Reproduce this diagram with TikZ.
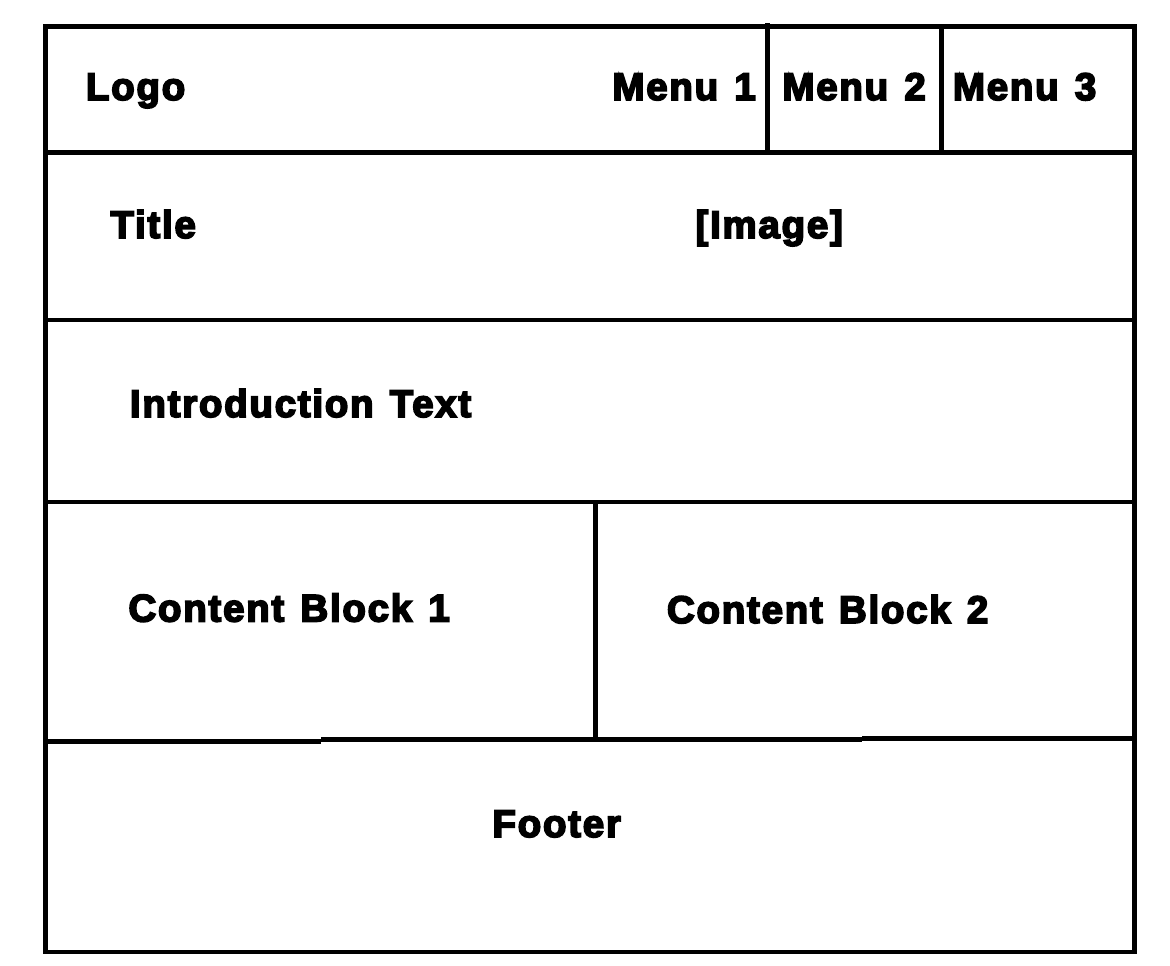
\documentclass[tikz,border=0pt]{standalone}
\usepackage{fontspec}
\setmainfont{Liberation Sans}
\newfontfamily\wirefont{Liberation Sans}[LetterSpace=4.5, WordSpace=1.3,
  BoldFeatures={FakeBold=4.5}]
\begin{document}
\begin{tikzpicture}[x=1bp,y=-1bp,
  wire/.style={line width=4.5bp, black},
  label/.style={anchor=base west, inner sep=0pt, outer sep=0pt,
    font=\fontsize{38.5bp}{46bp}\wirefont\bfseries}]
  % canvas
  \useasboundingbox (0,0) rectangle (1170,966);
  \fill[white] (0,0) rectangle (1170,966);

  % outer frame
  \draw[wire] (45.3,26.7) rectangle (1134.5,952);

  % row separators
  \draw[wire] (45.3,152.5) -- (1134.5,152.5);
  \draw[wire] (45.3,320) -- (1134.5,320);
  \draw[wire] (45.3,502) -- (1134.5,502);
  % footer separator, drawn in three slightly offset strokes
  \draw[wire] (45.3,741.5) -- (321,741.5);
  \draw[wire] (321,739.5) -- (862,739.5);
  \draw[wire] (862,738.5) -- (1134.5,738.5);

  % menu dividers
  \draw[wire] (767.5,23) -- (767.5,152.5);
  \draw[wire] (941.5,26.7) -- (941.5,152.5);
  % content column divider
  \draw[wire] (595.5,502) -- (595.5,739.5);

  % header
  \node[label] (logo)  at (86,100)    {Logo};
  \node[label] (menu1) at (612.5,100) {Menu 1};
  \node[label] (menu2) at (782.5,100) {Menu 2};
  \node[label] (menu3) at (953,100)   {Menu 3};

  % hero
  \node[label] (title) at (110.5,238) {Title};
  \node[label] (image) at (695.5,238) {[Image]};

  % introduction
  \node[label] (intro) at (130,417) {Introduction Text};

  % content blocks
  \node[label] (block1) at (128.5,621.5) {Content Block 1};
  \node[label] (block2) at (667,623)     {Content Block 2};

  % footer
  \node[label] (footer) at (492.5,837) {Footer};
\end{tikzpicture}
\end{document}
